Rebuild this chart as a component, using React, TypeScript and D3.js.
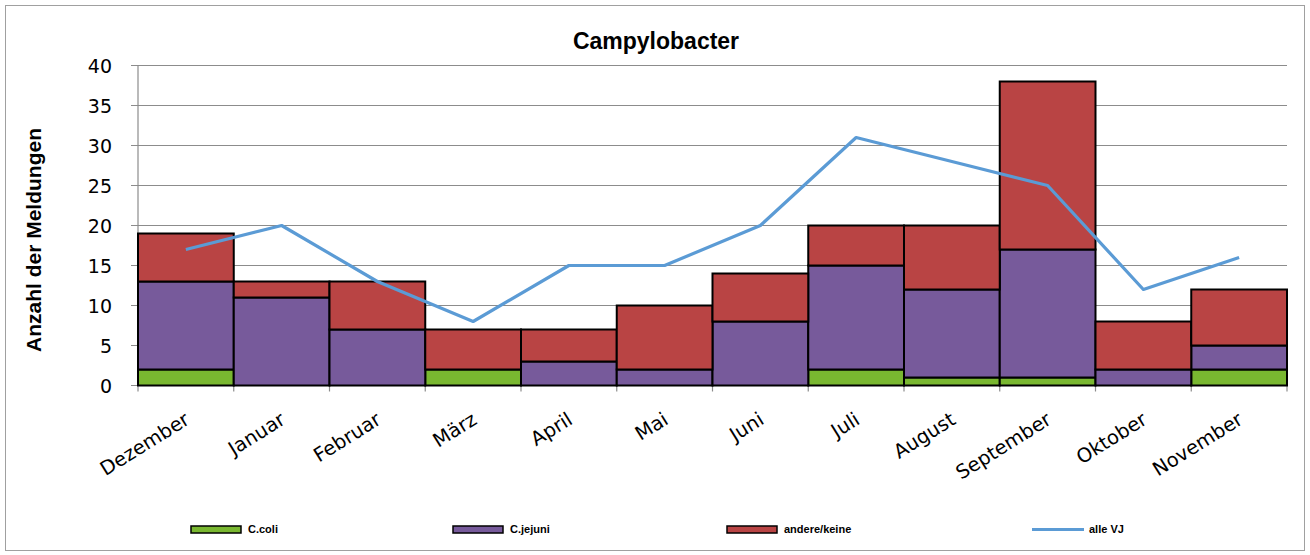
import React from "react";
import * as d3 from "d3";

const months = ["Dezember","Januar","Februar","März","April","Mai","Juni","Juli","August","September","Oktober","November"];
const coli = [2,0,0,2,0,0,0,2,1,1,0,2];
const jejuni = [11,11,7,0,3,2,8,13,11,16,2,3];
const andere = [6,2,6,5,4,8,6,5,8,21,6,7];
const alleVJ = [17,20,13,8,15,15,20,31,28,25,12,16];
const yTicks = [0,5,10,15,20,25,30,35,40];

const seriesNames = ["C.coli","C.jejuni","andere/keine"];
const colors = ["#79b730","#775a9b","#b94444"];
const lineColor = "#5b9bd5";

export default function App() {
  const W = 1310, H = 555;
  const left = 138, right = 1287, top = 65.5, bottom = 385.5;
  const x = d3.scaleBand<string>().domain(months).range([left, right]).padding(0);
  const y = d3.scaleLinear().domain([0, 40]).range([bottom, top]);
  const table = months.map((m, i) => ({ month: m, coli: coli[i], jejuni: jejuni[i], andere: andere[i] }));
  const stacked = d3.stack<any>().keys(["coli","jejuni","andere"])(table);
  const line = d3.line<number>()
    .x((_, i) => (x(months[i]) as number) + x.bandwidth() / 2)
    .y(d => y(d));
  const legendX = [191, 453, 727, 1032];
  const tickFont = "'DejaVu Sans', Verdana, sans-serif";
  return (
    <svg width={W} height={H} style={{ position: "absolute", left: 0, top: 0, fontFamily: "'Liberation Sans', Arial, sans-serif" }}>
      <rect x={5.5} y={5.5} width={W - 11} height={H - 10} fill="#fff" stroke="#a0a0a0" strokeWidth={1} />
      <text x={656} y={49} textAnchor="middle" fontWeight="bold" fontSize={23}>Campylobacter</text>
      {yTicks.map(t => (
        <g key={t}>
          <line x1={left - 7} x2={right} y1={y(t)} y2={y(t)} stroke="#8c8c8c" strokeWidth={1.2} />
          <text x={112} y={y(t) + 7} textAnchor="end" fontSize={19} fontFamily={tickFont}>{t}</text>
        </g>
      ))}
      <line x1={left} x2={left} y1={top} y2={bottom} stroke="#8c8c8c" strokeWidth={1.2} />
      {months.concat(["end"]).map((m, i) => {
        const xx = left + i * x.bandwidth();
        return <line key={"t" + i} x1={xx} x2={xx} y1={bottom} y2={bottom + 6} stroke="#8c8c8c" strokeWidth={1.2} />;
      })}
      {stacked.map((s, si) => (
        <g key={si}>
          {s.map((d, i) => d[1] - d[0] > 0 ? (
            <rect key={i} x={x(months[i])} y={y(d[1])} width={x.bandwidth()} height={y(d[0]) - y(d[1])}
              fill={colors[si]} stroke="#000" strokeWidth={2} />
          ) : null)}
        </g>
      ))}
      <path d={line(alleVJ) || ""} fill="none" stroke={lineColor} strokeWidth={3.2} strokeLinejoin="round" />
      {months.map(m => {
        const cx = (x(m) as number) + x.bandwidth() / 2;
        return (
          <text key={m} transform={`translate(${cx + 5},${423}) rotate(-32)`} textAnchor="end" fontSize={19.5}
            fontFamily={tickFont}>{m}</text>
        );
      })}
      <text transform={`translate(41,${240}) rotate(-90)`} textAnchor="middle" fontWeight="bold" fontSize={21}>Anzahl der Meldungen</text>
      {seriesNames.map((n, i) => (
        <g key={n}>
          <rect x={legendX[i]} y={526} width={50} height={7} fill={colors[i]} stroke="#000" strokeWidth={1.5} />
          <text x={legendX[i] + 57} y={533} fontSize={11} fontWeight="bold">{n}</text>
        </g>
      ))}
      <line x1={legendX[3]} x2={legendX[3] + 52} y1={529.5} y2={529.5} stroke={lineColor} strokeWidth={3} />
      <text x={legendX[3] + 57} y={533} fontSize={11} fontWeight="bold">alle VJ</text>
    </svg>
  );
}
